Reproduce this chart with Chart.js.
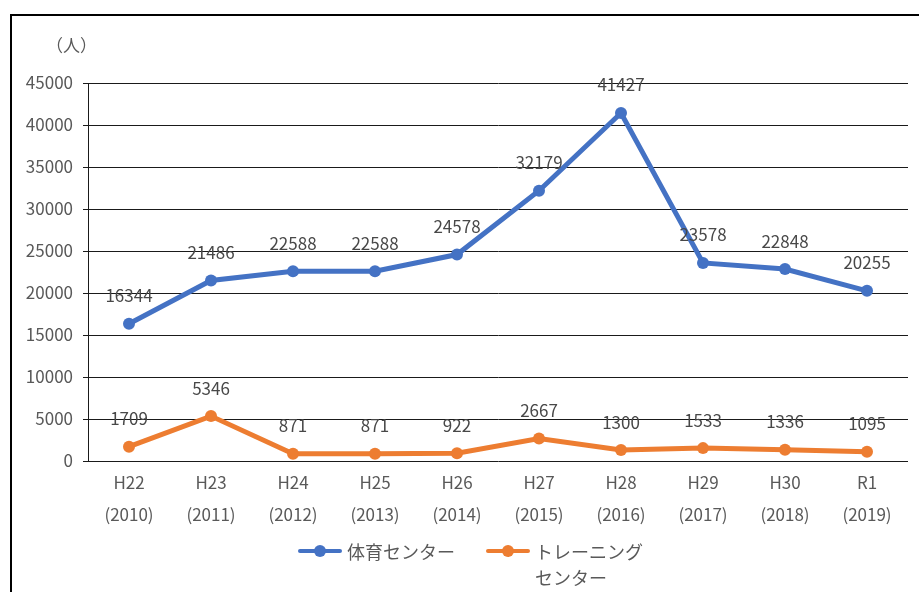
<!DOCTYPE html>
<html lang="ja">
<head>
<meta charset="utf-8">
<script src="https://cdn.jsdelivr.net/npm/chart.js@4/dist/chart.umd.min.js"></script>
<style>
  html, body { margin: 0; padding: 0; background: #fff; }
  #wrap { position: relative; width: 919px; height: 592px; overflow: hidden; font-family: "Noto Sans CJK JP", sans-serif; }
  #frame { position: absolute; left: 10px; top: 14px; width: 1000px; height: 700px; border-left: 2px solid #000; border-top: 2px solid #000; }
  #chart { position: absolute; left: 0; top: 0; }
  #unit { position: absolute; left: 46px; top: 32px; font-size: 17px; color: #595959; }
  #legend { position: absolute; left: 0; top: 0; width: 919px; height: 592px; pointer-events: none; }
  .item { position: absolute; display: flex; align-items: flex-start; font-size: 18px; color: #595959; line-height: 26px; }
  .sym { position: relative; width: 44px; height: 26px; margin-right: 5px; }
  .sym .ln { position: absolute; left: 0; right: 0; top: 11px; height: 4px; border-radius: 2px; }
  .sym .dt { position: absolute; left: 16px; top: 7px; width: 12px; height: 12px; border-radius: 50%; }
</style>
</head>
<body>
<div id="wrap">
  <div id="frame"></div>
  <canvas id="chart" width="919" height="592"></canvas>
  <div id="unit">（人）</div>
  <div id="legend"></div>
</div>
<script>
const years = [
  ["H22", "(2010)"], ["H23", "(2011)"], ["H24", "(2012)"], ["H25", "(2013)"], ["H26", "(2014)"],
  ["H27", "(2015)"], ["H28", "(2016)"], ["H29", "(2017)"], ["H30", "(2018)"], ["R1", "(2019)"]
];
const gymCenter = [16344, 21486, 22588, 22588, 24578, 32179, 41427, 23578, 22848, 20255];
const trainingCenter = [1709, 5346, 871, 871, 922, 2667, 1300, 1533, 1336, 1095];
const seriesNames = ["体育センター", ["トレーニング", "センター"]];
const colors = ["#4472C4", "#ED7D31"];

const FONT = "'Noto Sans CJK JP', sans-serif";
const TEXT = "#595959";

// values above each point
const valueLabels = {
  id: "valueLabels",
  afterDatasetsDraw(chart) {
    const ctx = chart.ctx;
    ctx.save();
    ctx.font = "17px " + FONT;
    ctx.fillStyle = "#484848";
    ctx.textAlign = "center";
    ctx.textBaseline = "middle";
    chart.data.datasets.forEach((ds, i) => {
      chart.getDatasetMeta(i).data.forEach((pt, j) => {
        ctx.fillText(String(ds.data[j]), pt.x, pt.y - 28);
      });
    });
    ctx.restore();
  }
};

const chart = new Chart(document.getElementById("chart"), {
  type: "line",
  data: {
    labels: years,
    datasets: [
      { label: "体育センター", data: gymCenter },
      { label: "トレーニングセンター", data: trainingCenter }
    ].map((d, i) => Object.assign(d, {
      borderColor: colors[i],
      backgroundColor: colors[i],
      borderWidth: 5,
      pointRadius: 6,
      pointBorderWidth: 0,
      tension: 0
    }))
  },
  options: {
    responsive: false,
    animation: false,
    layout: { padding: { left: 0, right: 11, top: 83, bottom: 0 } },
    plugins: { legend: { display: false }, tooltip: { enabled: false } },
    scales: {
      x: {
        offset: true,
        grid: { display: false, drawTicks: false },
        border: { display: false },
        ticks: { color: TEXT, padding: 5, maxRotation: 0, font: { family: FONT, size: 17, lineHeight: 1.9 } },
        afterFit(s) { s.height = 131; }
      },
      y: {
        min: 0,
        max: 45000,
        ticks: {
          stepSize: 5000, color: TEXT, padding: 10, font: { family: FONT, size: 17 },
          callback: (v) => String(v)
        },
        grid: { color: "#1a1a1a", lineWidth: 1, tickLength: 5 },
        border: { color: "#1a1a1a", width: 1 },
        afterFit(s) { s.width = 88; }
      }
    }
  },
  plugins: [valueLabels]
});

// legend under the chart
const legend = document.getElementById("legend");
const legendLeft = [298, 486];
seriesNames.forEach((name, i) => {
  const item = document.createElement("div");
  item.className = "item";
  item.style.left = legendLeft[i] + "px";
  item.style.top = "538px";
  const lines = Array.isArray(name) ? name : [name];
  item.innerHTML = '<div class="sym"><div class="ln" style="background:' + colors[i] + '"></div>' +
    '<div class="dt" style="background:' + colors[i] + '"></div></div>' +
    '<div>' + lines.join("<br>") + '</div>';
  legend.appendChild(item);
});
</script>
</body>
</html>
